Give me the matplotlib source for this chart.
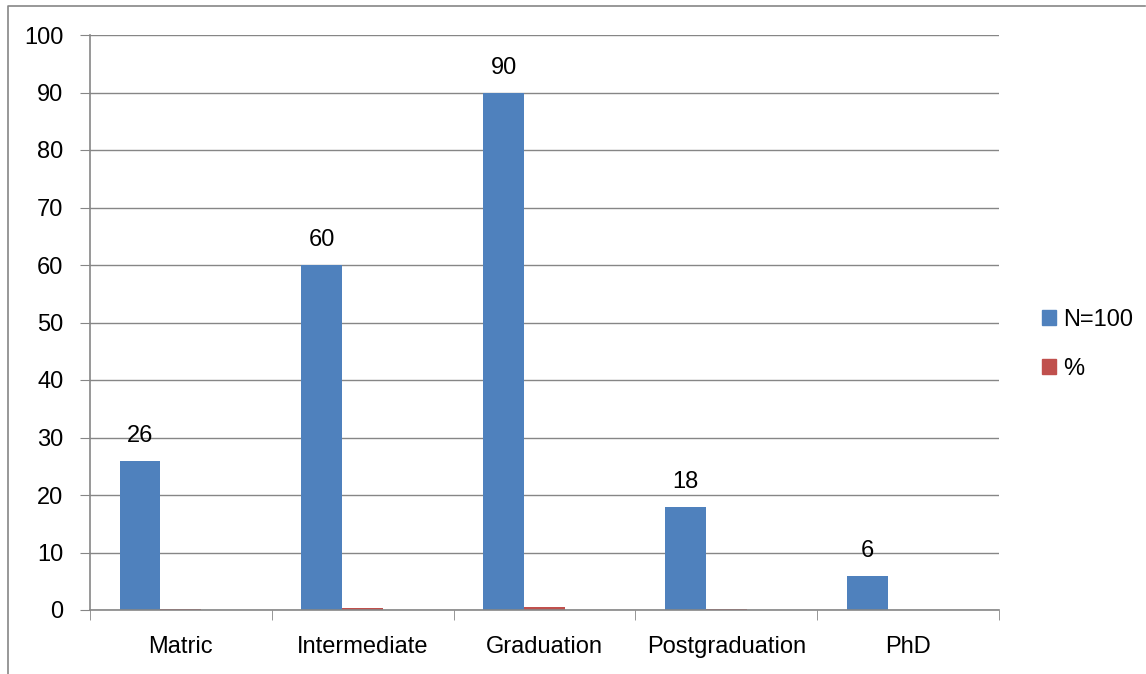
import numpy as np
import matplotlib.pyplot as plt
from matplotlib.lines import Line2D
from matplotlib.patches import Patch

categories = ["Matric", "Intermediate", "Graduation", "Postgraduation", "PhD"]
counts = [26, 60, 90, 18, 6]
percent = [0.13, 0.30, 0.45, 0.09, 0.03]
yticks = [0, 10, 20, 30, 40, 50, 60, 70, 80, 90, 100]

W, H = 1146, 674
blue = "#4F81BD"
red = "#C0504D"
grey = "#868686"
fs = 17

plt.rcParams['font.family'] = ['Liberation Sans', 'DejaVu Sans']

fig = plt.figure(figsize=(W / 100, H / 100), dpi=100)
ax = fig.add_axes([90 / W, (H - 610) / H, (999 - 90) / W, (610 - 35) / H])

x = np.arange(len(categories))
w = 0.225
ax.bar(x - w, counts, width=w, color=blue, label="N=100", align='center')
ax.bar(x, percent, width=w, color=red, label="%", align='center')

for xi, v in zip(x - w, counts):
    ax.annotate(str(v), (xi, v), xytext=(0, 10), textcoords='offset points',
                ha='center', va='bottom', fontsize=fs)

ax.set_xlim(-0.5, len(categories) - 0.5)
ax.set_ylim(0, 100)
ax.set_yticks(yticks)
ax.set_xticks(x)
ax.set_xticklabels(categories)
ax.set_xticks(np.arange(len(categories) + 1) - 0.5, minor=True)
ax.tick_params(axis='x', which='major', length=0, pad=19, labelsize=fs)
ax.tick_params(axis='x', which='minor', length=7, color=grey, direction='out')
ax.tick_params(axis='y', length=7, color=grey, direction='out', pad=12, labelsize=fs)

ax.grid(axis='y', color=grey, linewidth=1)
ax.set_axisbelow(True)
for s in ['top', 'right']:
    ax.spines[s].set_visible(False)
for s in ['left', 'bottom']:
    ax.spines[s].set_color(grey)
    ax.spines[s].set_linewidth(1.2)

handles = [Patch(color=blue), Patch(color=red)]
fig.legend(handles, ["N=100", "%"], loc='upper left',
           bbox_to_anchor=(1037 / W, 1 - 304 / H), frameon=False,
           handlelength=0.6, handleheight=0.6, handletextpad=0.3,
           labelspacing=1.15, fontsize=fs, borderpad=0.2, borderaxespad=0)

# outer chart frame (left and top edges only)
fig.add_artist(Line2D([8 / W, 8 / W, 1145 / W], [0, 1 - 6 / H, 1 - 6 / H],
                      transform=fig.transFigure, color=grey, linewidth=1.2))

fig.savefig("out.png", dpi=100)
